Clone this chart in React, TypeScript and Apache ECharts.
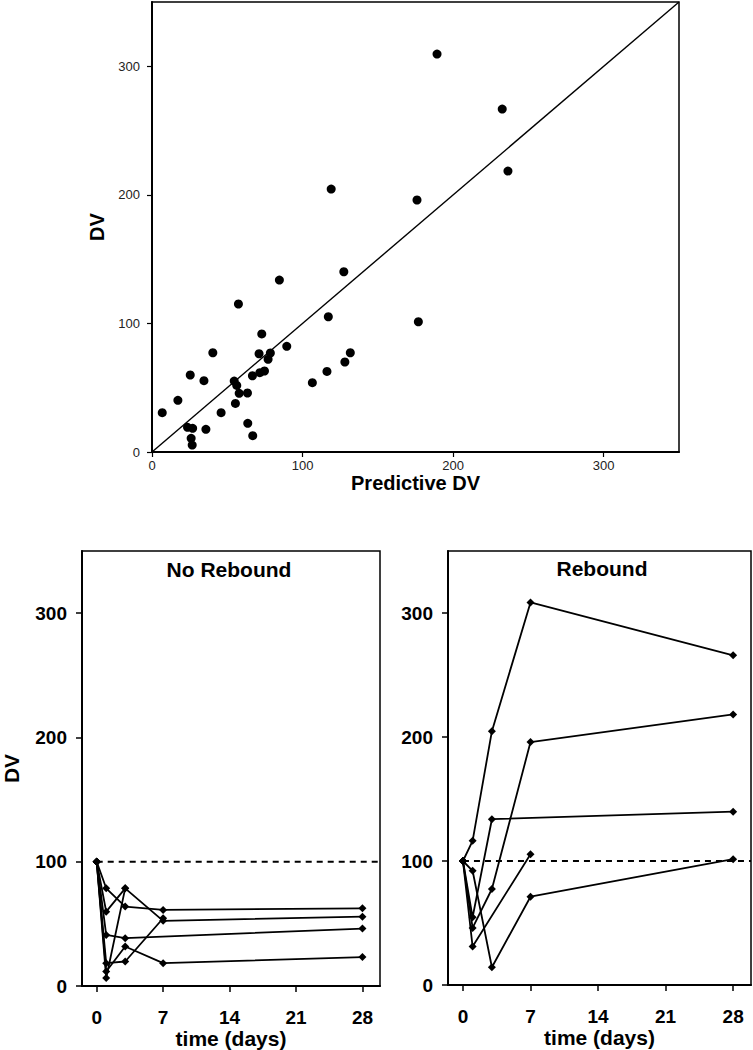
import React, { useEffect, useRef } from "react";
import * as echarts from "echarts";

// ---- Top panel: observed vs predicted ----
const predictedDV = [
  189.3, 119, 176, 232.6, 236.4, 127.4, 84.6, 57.4, 117.1, 176.9,
  72.9, 89.5, 40.4, 71.1, 78.6, 131.7, 77.1, 128.1, 74.7, 71.6,
  66.7, 116.2, 25.4, 34.5, 54.6, 56.3, 57.9, 63.4, 106.5, 17.2,
  55.4, 6.8, 45.9, 63.6, 23.6, 27, 35.8, 66.9, 26, 26.7,
];
const observedDV = [
  309.5, 204.5, 196, 266.7, 218.5, 140.2, 133.7, 115.1, 105.2, 101.3,
  91.8, 82.2, 77.2, 76.4, 77, 77.2, 72.1, 70, 63, 61.7,
  59.3, 62.7, 59.9, 55.5, 55.2, 51.8, 45.6, 45.9, 53.9, 40.2,
  37.8, 30.6, 30.6, 22.3, 19.2, 18.4, 17.6, 12.7, 10.6, 5.4,
];
const identityLine = [0, 350];
const scatterTicks = [0, 100, 200, 300];

// ---- Bottom panels: DV over time ----
const sampleDays = [0, 1, 3, 7, 28];
const noRebound1 = [100, 78.6, 63.9, 61.2, 62.5];
const noRebound2 = [100, 59.8, 78.6, 52.4, 55.8];
const noRebound3 = [100, 41.1, 38.5, null, 46.2];
const noRebound4 = [100, 11.7, 31.8, 18.4, 23.3];
const noRebound5 = [100, 6.4, 78.6, null, null];
const noRebound6 = [100, 18.4, 19.7, 54.5, null];
const noReboundSubjects = [noRebound1, noRebound2, noRebound3, noRebound4, noRebound5, noRebound6];

const rebound1 = [100, 116.3, 204.7, 308.5, 265.9];
const rebound2 = [100, 46, 77.4, 195.9, 218.2];
const rebound3 = [100, 54.6, 133.7, null, 139.8];
const rebound4 = [100, 31, null, 105.5, null];
const rebound5 = [100, 92.1, 14.3, 71.2, 101.5];
const reboundSubjects = [rebound1, rebound2, rebound3, rebound4, rebound5];

const baselineDV = 100;
const dvTicks = [0, 100, 200, 300];
const dayTicks = [0, 7, 14, 21, 28];
const panelTitles = ["No Rebound", "Rebound"];

const FONT = "'Liberation Sans', Arial, Helvetica, sans-serif";
const DAY_MIN = -1.55;
const DAY_MAX = 29.85;

export default function App() {
  const ref = useRef<HTMLDivElement>(null);

  useEffect(() => {
    if (!ref.current) return;
    const chart = echarts.init(ref.current, null, { renderer: "svg" });

    const gridBase = {
      show: true,
      borderColor: "#000",
      borderWidth: 1.5,
      backgroundColor: "transparent",
      containLabel: false,
    };

    const subjectSeries = (subjects: (number | null)[][], idx: number) =>
      subjects.map((vals) => ({
        type: "line",
        xAxisIndex: idx,
        yAxisIndex: idx,
        data: sampleDays
          .map((d, i) => [d, vals[i]])
          .filter((p) => p[1] !== null),
        symbol: "diamond",
        symbolSize: 8,
        itemStyle: { color: "#000", opacity: 1 },
        lineStyle: { color: "#000", width: 1.8 },
        z: 3,
      }));

    const dashedSeries = (idx: number) => ({
      type: "line",
      xAxisIndex: idx,
      yAxisIndex: idx,
      data: [
        [0, baselineDV],
        [DAY_MAX, baselineDV],
      ],
      showSymbol: false,
      symbol: "none",
      lineStyle: { color: "#000", width: 2, type: [6, 5] },
      z: 2,
    });

    const bottomX = (idx: number) => ({
      gridIndex: idx,
      type: "value",
      min: DAY_MIN,
      max: DAY_MAX,
      name: "time (days)",
      nameLocation: "middle",
      nameGap: 42,
      nameTextStyle: { fontFamily: FONT, fontWeight: "bold", fontSize: 21, color: "#000" },
      axisLine: { show: true, onZero: false, lineStyle: { color: "#000", width: 2 } },
      axisTick: { show: true, customValues: dayTicks, length: 6, lineStyle: { color: "#000", width: 1.5 } },
      axisLabel: { customValues: dayTicks, fontFamily: FONT, fontWeight: "bold", fontSize: 19, color: "#000", margin: 22 },
      splitLine: { show: false },
    });

    const bottomY = (idx: number, withName: boolean) => ({
      gridIndex: idx,
      type: "value",
      min: 0,
      max: 350,
      name: withName ? "DV" : "",
      nameLocation: "middle",
      nameGap: 60,
      nameTextStyle: { fontFamily: FONT, fontWeight: "bold", fontSize: 21, color: "#000" },
      axisLine: { show: true, onZero: false, lineStyle: { color: "#000", width: 2 } },
      axisTick: { show: true, customValues: dvTicks, length: 6, lineStyle: { color: "#000", width: 1.5 } },
      axisLabel: { customValues: dvTicks, fontFamily: FONT, fontWeight: "bold", fontSize: 19, color: "#000", margin: 15 },
      splitLine: { show: false },
    });

    const option = {
      animation: false,
      backgroundColor: "#fff",
      grid: [
        { ...gridBase, left: 152, top: 2, width: 527, height: 450 },
        { ...gridBase, left: 80, top: 551, width: 300, height: 435 },
        { ...gridBase, left: 448, top: 551, width: 303, height: 434 },
      ],
      xAxis: [
        {
          gridIndex: 0,
          type: "value",
          min: 0,
          max: 350,
          name: "Predictive DV",
          nameLocation: "middle",
          nameGap: 19,
          nameTextStyle: { fontFamily: FONT, fontWeight: "bold", fontSize: 20, color: "#000" },
          axisLine: { show: true, onZero: false, lineStyle: { color: "#000", width: 2 } },
          axisTick: { show: true, customValues: scatterTicks, length: 5, lineStyle: { color: "#000", width: 1.2 } },
          axisLabel: { customValues: scatterTicks, fontFamily: FONT, fontSize: 13, color: "#222", margin: 7 },
          splitLine: { show: false },
        },
        bottomX(1),
        bottomX(2),
      ],
      yAxis: [
        {
          gridIndex: 0,
          type: "value",
          min: 0,
          max: 350,
          name: "DV",
          nameLocation: "middle",
          nameGap: 38,
          nameTextStyle: { fontFamily: FONT, fontWeight: "bold", fontSize: 20, color: "#000" },
          axisLine: { show: true, onZero: false, lineStyle: { color: "#000", width: 2 } },
          axisTick: { show: true, customValues: scatterTicks, length: 5, lineStyle: { color: "#000", width: 1.2 } },
          axisLabel: { customValues: scatterTicks, fontFamily: FONT, fontSize: 13, color: "#222", margin: 12 },
          splitLine: { show: false },
        },
        bottomY(1, true),
        bottomY(2, false),
      ],
      graphic: [
        {
          type: "text",
          x: 229,
          y: 569,
          style: {
            text: panelTitles[0],
            font: `bold 21px ${FONT}`,
            fill: "#000",
            textAlign: "center",
            textVerticalAlign: "middle",
          },
        },
        {
          type: "text",
          x: 602,
          y: 568,
          style: {
            text: panelTitles[1],
            font: `bold 21px ${FONT}`,
            fill: "#000",
            textAlign: "center",
            textVerticalAlign: "middle",
          },
        },
      ],
      series: [
        {
          type: "line",
          xAxisIndex: 0,
          yAxisIndex: 0,
          data: identityLine.map((v) => [v, v]),
          showSymbol: false,
          symbol: "none",
          lineStyle: { color: "#000", width: 1.4 },
          z: 2,
        },
        {
          type: "scatter",
          xAxisIndex: 0,
          yAxisIndex: 0,
          data: predictedDV.map((x, i) => [x, observedDV[i]]),
          symbol: "circle",
          symbolSize: 9,
          itemStyle: { color: "#000", opacity: 1 },
          z: 3,
        },
        dashedSeries(1),
        dashedSeries(2),
        ...subjectSeries(noReboundSubjects, 1),
        ...subjectSeries(reboundSubjects, 2),
      ],
    };

    chart.setOption(option as any);
    return () => chart.dispose();
  }, []);

  return (
    <div
      ref={ref}
      style={{ position: "absolute", left: 0, top: 0, width: 753, height: 1050 }}
    />
  );
}
